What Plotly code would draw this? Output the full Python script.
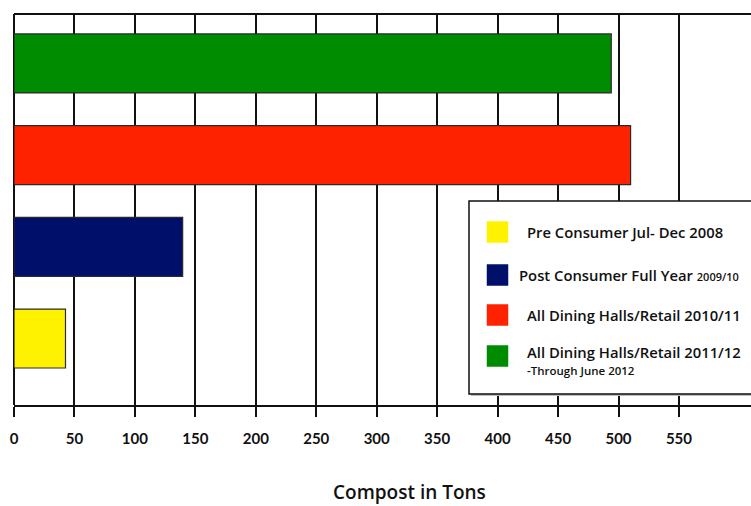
import plotly.graph_objects as go

# Compost totals (tons) per collection period, bottom bar first
periods = ["Pre Consumer Jul- Dec 2008",
           "Post Consumer Full Year 2009/10",
           "All Dining Halls/Retail 2010/11",
           "All Dining Halls/Retail 2011/12"]
tons = [42.6, 139.5, 510, 494]
colors = ["#FFF200", "#00106A", "#FF2200", "#008C00"]
tick_values = [0, 50, 100, 150, 200, 250, 300, 350, 400, 450, 500, 550]

W, H = 751, 506
L, R, T, B = 14, 751, 14, 405


def px(x):
    return (x - L) / (R - L)


def py(y):
    return (B - y) / (B - T)


TEXT_FONT = "Open Sans"
TICK_FONT = "Lato"

fig = go.Figure()
fig.add_trace(go.Bar(
    y=periods, x=tons, orientation="h",
    marker=dict(color=colors, line=dict(color="#2a2a2a", width=1.2)),
    width=0.643, showlegend=False, hoverinfo="x+y",
))

fig.update_layout(
    width=W, height=H,
    margin=dict(l=L, r=W - R, t=T, b=H - B),
    paper_bgcolor="white", plot_bgcolor="white",
    showlegend=False,
    xaxis=dict(
        range=[0, (R - L) / 1.209],
        tickvals=tick_values,
        showgrid=True, gridcolor="#111", gridwidth=2,
        zeroline=True, zerolinecolor="#111", zerolinewidth=2,
        showline=True, linecolor="#111", linewidth=2,
        ticks="outside", ticklen=10, tickwidth=2, tickcolor="#111",
        tickfont=dict(family=TICK_FONT, size=15, color="#111", weight="bold"),
        ticklabelstandoff=9,
    ),
    yaxis=dict(
        categoryorder="array", categoryarray=periods,
        range=[-0.725, 3.539],
        showticklabels=False, showgrid=False, zeroline=False, ticks="",
    ),
)

shapes = [
    # top frame line
    dict(type="line", xref="paper", yref="paper", x0=0, x1=1.02, y0=1, y1=1,
         line=dict(color="#111", width=2)),
    # legend box shadow and box
    dict(type="rect", xref="paper", yref="paper",
         x0=px(471), x1=px(780), y0=py(396), y1=py(203),
         fillcolor="#bdbdbd", line=dict(width=0)),
    dict(type="rect", xref="paper", yref="paper",
         x0=px(469), x1=px(780), y0=py(394), y1=py(201),
         fillcolor="white", line=dict(color="#111", width=1.5)),
]

annotations = []
legend_rows = [
    (232, 232, 525, "Pre Consumer Jul- Dec 2008"),
    (275, 275, 517, "Post Consumer Full Year <span style='font-size:11px'>2009/10</span>"),
    (315, 315, 525, "All Dining Halls/Retail 2010/11"),
    (356, 352, 525, "All Dining Halls/Retail 2011/12"),
]
for (sy, ty, tx, text), col in zip(legend_rows, colors):
    shapes.append(dict(type="rect", xref="paper", yref="paper",
                       x0=px(487), x1=px(508), y0=py(sy + 10.5), y1=py(sy - 10.5),
                       fillcolor=col, line=dict(color=col, width=0.5)))
    annotations.append(dict(xref="paper", yref="paper", x=px(tx), y=py(ty),
                            xanchor="left", yanchor="middle", showarrow=False,
                            text=text,
                            font=dict(family=TEXT_FONT, size=14.8, color="#111", weight=600)))
annotations.append(dict(xref="paper", yref="paper", x=px(525), y=py(370),
                        xanchor="left", yanchor="middle", showarrow=False,
                        text="-Through June 2012",
                        font=dict(family=TEXT_FONT, size=11.5, color="#111", weight=600)))
annotations.append(dict(xref="paper", yref="paper", x=px(409), y=py(492),
                        xanchor="center", yanchor="middle", showarrow=False,
                        text="Compost in Tons",
                        font=dict(family=TEXT_FONT, size=19, color="#111", weight=600)))

fig.update_layout(shapes=shapes, annotations=annotations)
fig.write_html("out.html")
